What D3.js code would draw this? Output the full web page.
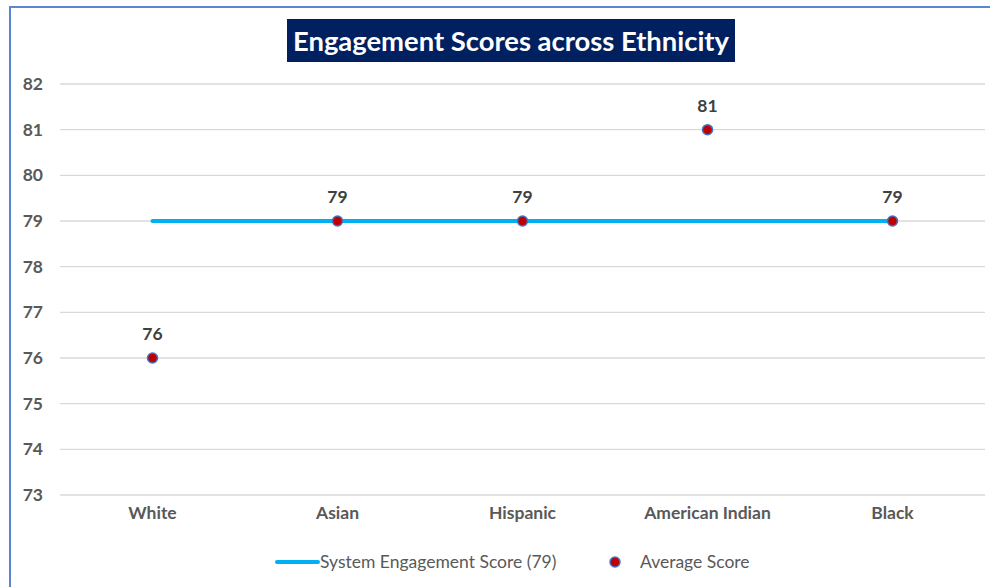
<!DOCTYPE html>
<html>
<head>
<meta charset="utf-8">
<script src="https://cdn.jsdelivr.net/npm/d3@7"></script>
<style>
  html, body { margin: 0; padding: 0; background: #fff; }
  svg { display: block; }
</style>
</head>
<body>
<script>
// Chart data
const categories = ["White", "Asian", "Hispanic", "American Indian", "Black"];
const averageScores = [76, 79, 79, 81, 79];
const systemScore = 79;
const yTicks = [73, 74, 75, 76, 77, 78, 79, 80, 81, 82];
const titleText = "Engagement Scores across Ethnicity";
const legendLabels = ["System Engagement Score (79)", "Average Score"];

const W = 990, H = 587;
const font = "Lato, 'Open Sans', 'Liberation Sans', sans-serif";
const labelSize = 17.5;

const svg = d3.select("body").append("svg")
  .attr("width", W).attr("height", H);

// frame (left and top edges visible)
svg.append("line").attr("x1", 10).attr("x2", 10).attr("y1", 6).attr("y2", H)
  .attr("stroke", "#5b86d6").attr("stroke-width", 2);
svg.append("line").attr("x1", 10).attr("x2", W).attr("y1", 7).attr("y2", 7)
  .attr("stroke", "#5b86d6").attr("stroke-width", 2);

const plot = { left: 60, right: 985, top: 84, bottom: 495 };

const x = d3.scaleBand().domain(categories).range([plot.left, plot.right]);
const y = d3.scaleLinear().domain([73, 82]).range([plot.bottom, plot.top]);

// gridlines
svg.append("g").selectAll("line").data(yTicks).join("line")
  .attr("x1", plot.left).attr("x2", plot.right)
  .attr("y1", d => y(d)).attr("y2", d => y(d))
  .attr("stroke", "#d9d9d9").attr("stroke-width", 1.3);

// y axis labels
const yAxis = d3.axisLeft(y).tickValues(yTicks).tickSize(0).tickPadding(0);
const yg = svg.append("g").attr("transform", `translate(43,0)`).call(yAxis);
yg.select(".domain").remove();
yg.selectAll("text")
  .attr("font-family", font).attr("font-size", labelSize).attr("font-weight", "bold")
  .attr("fill", "#595959");

// x axis labels
const xAxis = d3.axisBottom(x).tickSize(0).tickPadding(0);
const xg = svg.append("g").attr("transform", `translate(0,${plot.bottom + 12})`).call(xAxis);
xg.select(".domain").remove();
xg.selectAll("text")
  .attr("font-family", font).attr("font-size", labelSize).attr("font-weight", "bold")
  .attr("fill", "#595959");

// system engagement line
const cx = d => x(d) + x.bandwidth() / 2;
svg.append("line")
  .attr("x1", cx(categories[0])).attr("x2", cx(categories[categories.length - 1]))
  .attr("y1", y(systemScore)).attr("y2", y(systemScore))
  .attr("stroke", "#00b0f0").attr("stroke-width", 4).attr("stroke-linecap", "round");

// average score points
svg.append("g").selectAll("circle").data(averageScores).join("circle")
  .attr("cx", (d, i) => cx(categories[i]))
  .attr("cy", d => y(d))
  .attr("r", 5)
  .attr("fill", "#c00000").attr("stroke", "#4472c4").attr("stroke-width", 1.5);

// value labels
svg.append("g").selectAll("text").data(averageScores).join("text")
  .attr("x", (d, i) => cx(categories[i]))
  .attr("y", d => y(d) - 18)
  .attr("text-anchor", "middle")
  .attr("font-family", font).attr("font-size", labelSize).attr("font-weight", "bold")
  .attr("fill", "#404040")
  .text(d => d);

// title box
svg.append("rect").attr("x", 287).attr("y", 19).attr("width", 448).attr("height", 43)
  .attr("fill", "#002060");
svg.append("text").attr("x", 511).attr("y", 51)
  .attr("text-anchor", "middle")
  .attr("font-family", font).attr("font-size", 26).attr("font-weight", "bold")
  .attr("fill", "#fff")
  .attr("textLength", 436).attr("lengthAdjust", "spacingAndGlyphs")
  .text(titleText);

// legend
const ly = 562;
svg.append("line").attr("x1", 277).attr("x2", 318).attr("y1", ly).attr("y2", ly)
  .attr("stroke", "#00b0f0").attr("stroke-width", 4).attr("stroke-linecap", "round");
svg.append("text").attr("x", 320).attr("y", ly + 6)
  .attr("font-family", font).attr("font-size", 17.5).attr("fill", "#595959")
  .text(legendLabels[0]);
svg.append("circle").attr("cx", 615).attr("cy", ly).attr("r", 5)
  .attr("fill", "#c00000").attr("stroke", "#4472c4").attr("stroke-width", 1.5);
svg.append("text").attr("x", 640).attr("y", ly + 6)
  .attr("font-family", font).attr("font-size", 17.5).attr("fill", "#595959")
  .text(legendLabels[1]);
</script>
</body>
</html>
